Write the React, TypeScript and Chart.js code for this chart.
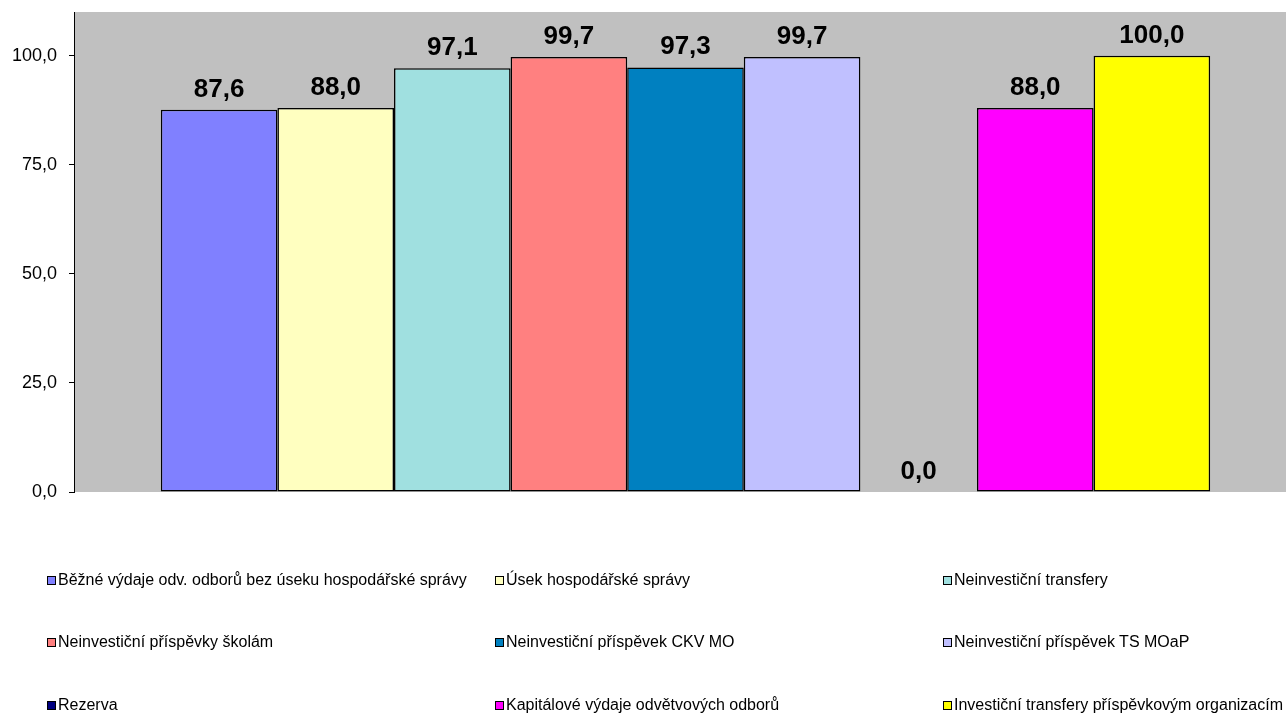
import React, { useEffect, useRef } from "react";
import { Chart, registerables } from "chart.js";

Chart.register(...registerables);

const categories = ["2009"];
const seriesNames = [
  "Běžné výdaje odv. odborů bez úseku hospodářské správy",
  "Úsek hospodářské správy",
  "Neinvestiční transfery",
  "Neinvestiční příspěvky školám",
  "Neinvestiční příspěvek CKV MO",
  "Neinvestiční příspěvek TS MOaP",
  "Rezerva",
  "Kapitálové výdaje odvětvových odborů",
  "Investiční transfery příspěvkovým organizacím",
];
const seriesValues = [87.6, 88.0, 97.1, 99.7, 97.3, 99.7, 0.0, 88.0, 100.0];
const seriesColors = [
  "#8080FF",
  "#FFFFC0",
  "#A0E0E0",
  "#FF8080",
  "#0080C0",
  "#C0C0FF",
  "#000080",
  "#FF00FF",
  "#FFFF00",
];
const yTicks = [0, 25, 50, 75, 100];

const FONT = "'Liberation Sans', Arial, sans-serif";

const fmt = (v: number) => v.toFixed(1).replace(".", ",");

const legendCols = [47, 495, 943];
const legendRows = [580, 642, 705];

export default function App() {
  const ref = useRef<HTMLCanvasElement | null>(null);

  useEffect(() => {
    if (!ref.current) return;
    const bgPlugin = {
      id: "plotBg",
      beforeDraw(chart: any) {
        const { ctx, chartArea } = chart;
        ctx.save();
        ctx.fillStyle = "#C0C0C0";
        ctx.fillRect(
          chartArea.left,
          chartArea.top,
          chartArea.right - chartArea.left,
          chartArea.bottom - chartArea.top
        );
        ctx.restore();
      },
    };
    const labelPlugin = {
      id: "valueLabels",
      afterDatasetsDraw(chart: any) {
        const { ctx } = chart;
        ctx.save();
        ctx.font = `bold 26px ${FONT}`;
        ctx.fillStyle = "#000";
        ctx.textAlign = "center";
        ctx.textBaseline = "alphabetic";
        chart.data.datasets.forEach((ds: any, i: number) => {
          const meta = chart.getDatasetMeta(i);
          meta.data.forEach((el: any, j: number) => {
            ctx.fillText(fmt(ds.data[j]), el.x, el.y - 13);
          });
        });
        ctx.restore();
      },
    };
    const chart = new Chart(ref.current, {
      type: "bar",
      data: {
        labels: categories,
        datasets: seriesNames.map((name, i) => ({
          label: name,
          data: [seriesValues[i]],
          backgroundColor: seriesColors[i],
          borderColor: "#000",
          borderWidth: seriesValues[i] === 0 ? 0 : 1.5,
          borderSkipped: false,
          categoryPercentage: 0.858,
          barPercentage: 1,
        })),
      },
      options: {
        responsive: false,
        animation: false,
        devicePixelRatio: 1,
        layout: { padding: { top: 12, bottom: 225, left: 0, right: 0 } },
        plugins: {
          legend: { display: false },
          tooltip: { enabled: false },
        },
        scales: {
          x: { display: false },
          y: {
            min: 0,
            max: 110,
            afterBuildTicks: (scale: any) => {
              scale.ticks = yTicks.map((v) => ({ value: v }));
            },
            afterFit: (scale: any) => {
              scale.width = 74;
              scale.paddingTop = 0;
              scale.paddingBottom = 0;
            },
            grid: {
              drawOnChartArea: false,
              drawTicks: true,
              tickLength: 5,
              color: "#000",
            },
            border: { display: true, color: "#000", width: 1 },
            ticks: {
              padding: 12,
              color: "#000",
              font: { size: 18, family: FONT },
              callback: (v: any) => fmt(Number(v)),
            },
          },
        },
      },
      plugins: [bgPlugin, labelPlugin],
    } as any);
    return () => chart.destroy();
  }, []);

  return (
    <div
      style={{
        position: "absolute",
        left: 0,
        top: 0,
        width: 1286,
        height: 717,
        overflow: "hidden",
        background: "#fff",
      }}
    >
      <canvas ref={ref} width={1297} height={717} style={{ display: "block" }} />
      {seriesNames.map((name, i) => {
        const col = legendCols[i % 3];
        const row = legendRows[Math.floor(i / 3)];
        return (
          <div
            key={name}
            style={{
              position: "absolute",
              left: col,
              top: row - 10,
              height: 20,
              display: "flex",
              alignItems: "center",
              fontFamily: FONT,
              fontSize: 16,
              color: "#000",
              whiteSpace: "nowrap",
            }}
          >
            <span
              style={{
                display: "inline-block",
                width: 7,
                height: 7,
                border: "1.5px solid #000",
                background: seriesColors[i],
                marginRight: 2,
              }}
            />
            <span>{name}</span>
          </div>
        );
      })}
    </div>
  );
}
